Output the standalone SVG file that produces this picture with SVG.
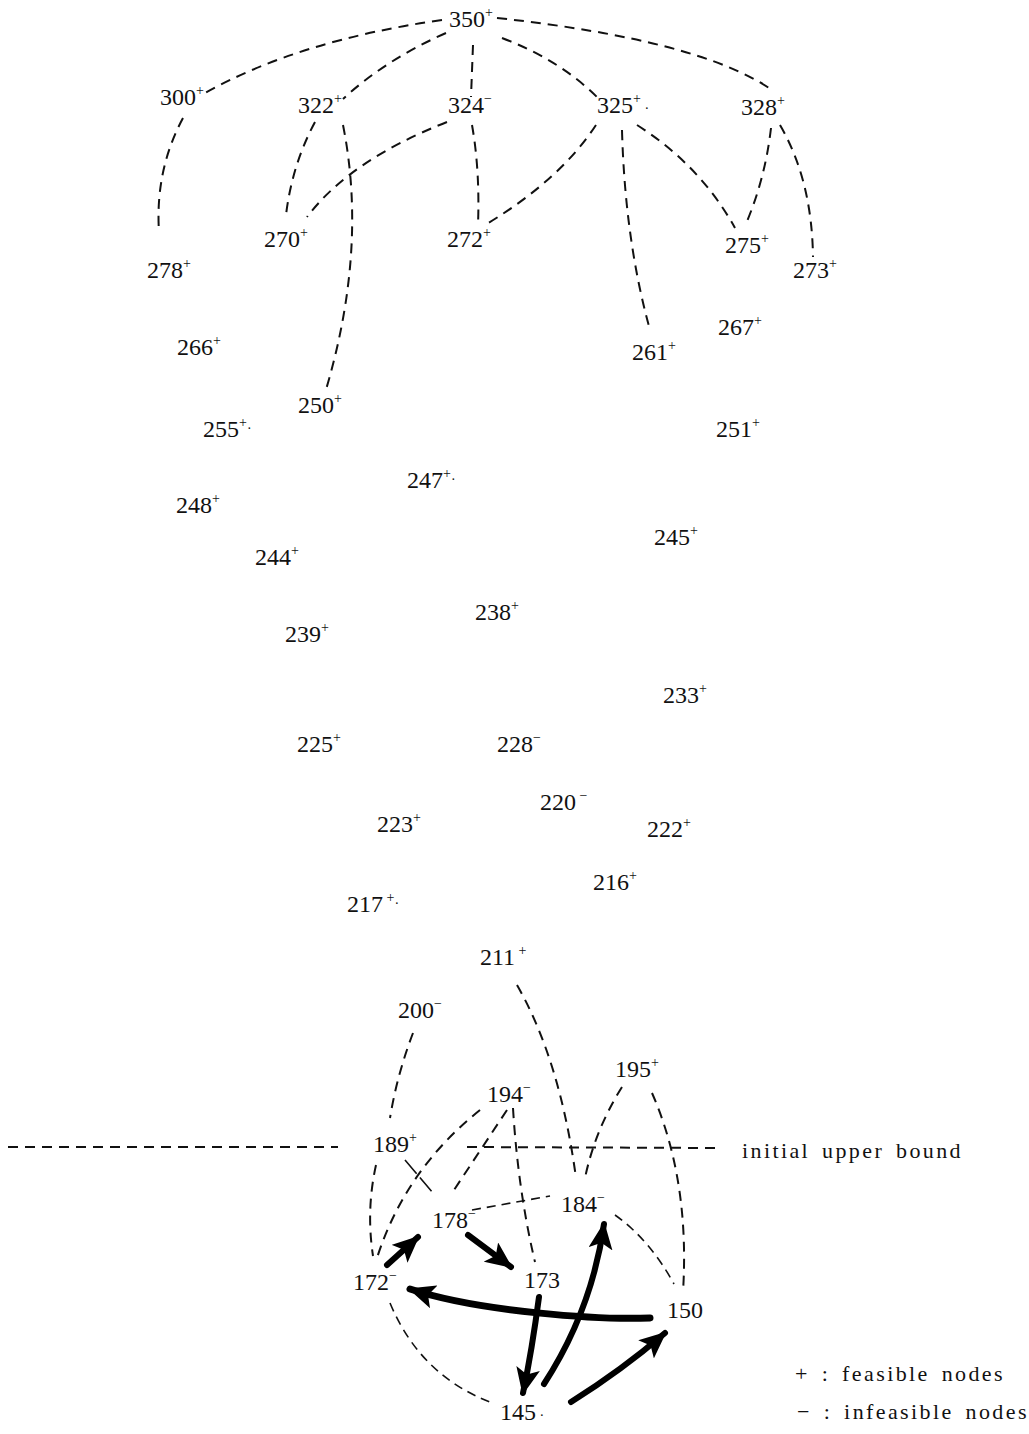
<svg xmlns="http://www.w3.org/2000/svg" width="1029" height="1434" viewBox="0 0 1029 1434">
<style>
text{font-family:"Liberation Serif","DejaVu Serif",serif;font-size:24px;fill:#111}
.s{font-size:14px}
.d{fill:none;stroke:#111;stroke-width:2;stroke-dasharray:10 7}
.t{fill:none;stroke:#111;stroke-width:1.6;stroke-dasharray:9 6}
.b{fill:none;stroke:#000;stroke-width:6;stroke-linecap:round}
.lg{font-size:22px;letter-spacing:2.4px;word-spacing:4px}
</style>
<defs>
<marker id="ah" markerUnits="userSpaceOnUse" markerWidth="30" markerHeight="24" refX="25" refY="12" orient="auto">
<path d="M0,0 L27,12 L0,24 L6,12 Z" fill="#000"/>
</marker>
</defs>
<rect width="1029" height="1434" fill="#fff"/>
<g id="connectors">
<path class="d" d="M442,20 Q300,40 205,93"/>
<path class="d" d="M446,33 Q385,60 343,99"/>
<path class="d" d="M473,45 L471,97"/>
<path class="d" d="M502,38 Q560,60 598,98"/>
<path class="d" d="M497,18 Q700,40 772,90"/>
<path class="d" d="M183,118 Q155,170 159,232"/>
<path class="d" d="M315,122 Q292,165 286,215"/>
<path class="d" d="M343,125 Q368,250 325,393"/>
<path class="d" d="M447,122 Q350,160 307,217"/>
<path class="d" d="M472,125 Q480,170 478,225"/>
<path class="d" d="M596,125 Q560,180 485,225"/>
<path class="d" d="M622,130 Q625,240 650,330"/>
<path class="d" d="M637,125 Q700,165 735,228"/>
<path class="d" d="M771,128 Q765,180 745,226"/>
<path class="d" d="M780,125 Q812,180 813,257"/>
<path class="d" d="M517,985 Q560,1060 576,1178"/>
<path class="d" d="M622,1087 Q595,1130 585,1178"/>
<path class="d" d="M652,1093 Q690,1180 683,1292"/>
<path class="d" d="M413,1033 Q397,1075 390,1118"/>
<path class="d" d="M480,1110 Q405,1170 377,1258"/>
<path class="d" d="M507,1110 L452,1193"/>
<path class="d" d="M513,1108 Q518,1190 535,1262"/>
<path class="d" d="M376,1165 Q366,1210 373,1256"/>
<path class="t" d="M405,1160 L433,1193" style="stroke-dasharray:18 5"/>
<path class="t" d="M472,1210 L550,1196"/>
<path class="t" d="M615,1215 Q650,1240 674,1284"/>
<path class="t" d="M390,1303 Q420,1375 490,1402"/>
<path class="d" d="M8,1147 L338,1147"/>
<path class="d" d="M467,1147 L718,1148"/>
<path class="b" d="M387,1265 L418,1237" marker-end="url(#ah)"/>
<path class="b" d="M468,1235 L511,1267" marker-end="url(#ah)"/>
<path class="b" d="M650,1318 C600,1320 480,1312 410,1289" marker-end="url(#ah)" style="stroke-width:7"/>
<path class="b" d="M539,1297 Q532,1350 523,1393" marker-end="url(#ah)"/>
<path class="b" d="M544,1384 Q592,1310 604,1224" marker-end="url(#ah)"/>
<path class="b" d="M571,1402 Q622,1370 665,1333" marker-end="url(#ah)"/>
</g>
<g id="n350"><text x="449" y="27">350<tspan class="s" dy="-10">+</tspan></text></g>
<g id="n300"><text x="160" y="105">300<tspan class="s" dy="-10">+</tspan></text></g>
<g id="n322"><text x="298" y="113">322<tspan class="s" dy="-10">+</tspan></text></g>
<g id="n324"><text x="448" y="113">324<tspan class="s" dy="-10">−</tspan></text></g>
<g id="n325"><text x="597" y="113">325<tspan class="s" dy="-10">+</tspan><tspan class="s" dy="10"> ·</tspan></text></g>
<g id="n328"><text x="741" y="115">328<tspan class="s" dy="-10">+</tspan></text></g>
<g id="n270"><text x="264" y="247">270<tspan class="s" dy="-10">+</tspan></text></g>
<g id="n272"><text x="447" y="247">272<tspan class="s" dy="-10">+</tspan></text></g>
<g id="n275"><text x="725" y="253">275<tspan class="s" dy="-10">+</tspan></text></g>
<g id="n273"><text x="793" y="278">273<tspan class="s" dy="-10">+</tspan></text></g>
<g id="n278"><text x="147" y="278">278<tspan class="s" dy="-10">+</tspan></text></g>
<g id="n266"><text x="177" y="355">266<tspan class="s" dy="-10">+</tspan></text></g>
<g id="n261"><text x="632" y="360">261<tspan class="s" dy="-10">+</tspan></text></g>
<g id="n267"><text x="718" y="335">267<tspan class="s" dy="-10">+</tspan></text></g>
<g id="n250"><text x="298" y="413">250<tspan class="s" dy="-10">+</tspan></text></g>
<g id="n255"><text x="203" y="437">255<tspan class="s" dy="-10">+</tspan><tspan class="s" dy="6">·</tspan></text></g>
<g id="n251"><text x="716" y="437">251<tspan class="s" dy="-10">+</tspan></text></g>
<g id="n247"><text x="407" y="488">247<tspan class="s" dy="-10">+</tspan><tspan class="s" dy="6">·</tspan></text></g>
<g id="n248"><text x="176" y="513">248<tspan class="s" dy="-10">+</tspan></text></g>
<g id="n245"><text x="654" y="545">245<tspan class="s" dy="-10">+</tspan></text></g>
<g id="n244"><text x="255" y="565">244<tspan class="s" dy="-10">+</tspan></text></g>
<g id="n238"><text x="475" y="620">238<tspan class="s" dy="-10">+</tspan></text></g>
<g id="n239"><text x="285" y="642">239<tspan class="s" dy="-10">+</tspan></text></g>
<g id="n233"><text x="663" y="703">233<tspan class="s" dy="-10">+</tspan></text></g>
<g id="n225"><text x="297" y="752">225<tspan class="s" dy="-10">+</tspan></text></g>
<g id="n228"><text x="497" y="752">228<tspan class="s" dy="-10">−</tspan></text></g>
<g id="n220"><text x="540" y="810">220<tspan class="s" dy="-10"> −</tspan></text></g>
<g id="n223"><text x="377" y="832">223<tspan class="s" dy="-10">+</tspan></text></g>
<g id="n222"><text x="647" y="837">222<tspan class="s" dy="-10">+</tspan></text></g>
<g id="n216"><text x="593" y="890">216<tspan class="s" dy="-10">+</tspan></text></g>
<g id="n217"><text x="347" y="912">217<tspan class="s" dy="-10"> +</tspan><tspan class="s" dy="6">·</tspan></text></g>
<g id="n211"><text x="480" y="965">211<tspan class="s" dy="-10"> +</tspan></text></g>
<g id="n200"><text x="398" y="1018">200<tspan class="s" dy="-10">−</tspan></text></g>
<g id="n195"><text x="615" y="1077">195<tspan class="s" dy="-10">+</tspan></text></g>
<g id="n194"><text x="487" y="1102">194<tspan class="s" dy="-10">−</tspan></text></g>
<g id="n189"><text x="373" y="1152">189<tspan class="s" dy="-10">+</tspan></text></g>
<g id="n184"><text x="561" y="1212">184<tspan class="s" dy="-10">−</tspan></text></g>
<g id="n178"><text x="432" y="1228">178<tspan class="s" dy="-10">−</tspan></text></g>
<g id="n172"><text x="353" y="1290">172<tspan class="s" dy="-10">−</tspan></text></g>
<g id="n173"><text x="524" y="1288">173</text></g>
<g id="n150"><text x="667" y="1318">150</text></g>
<g id="n145"><text x="500" y="1420">145<tspan class="s"> ·</tspan></text></g>
<g id="labels">
<text class="lg" x="742" y="1158">initial upper bound</text>
<text class="lg" x="795" y="1381">+ : feasible nodes</text>
<text class="lg" x="797" y="1419">− : infeasible nodes</text>
</g>
</svg>
